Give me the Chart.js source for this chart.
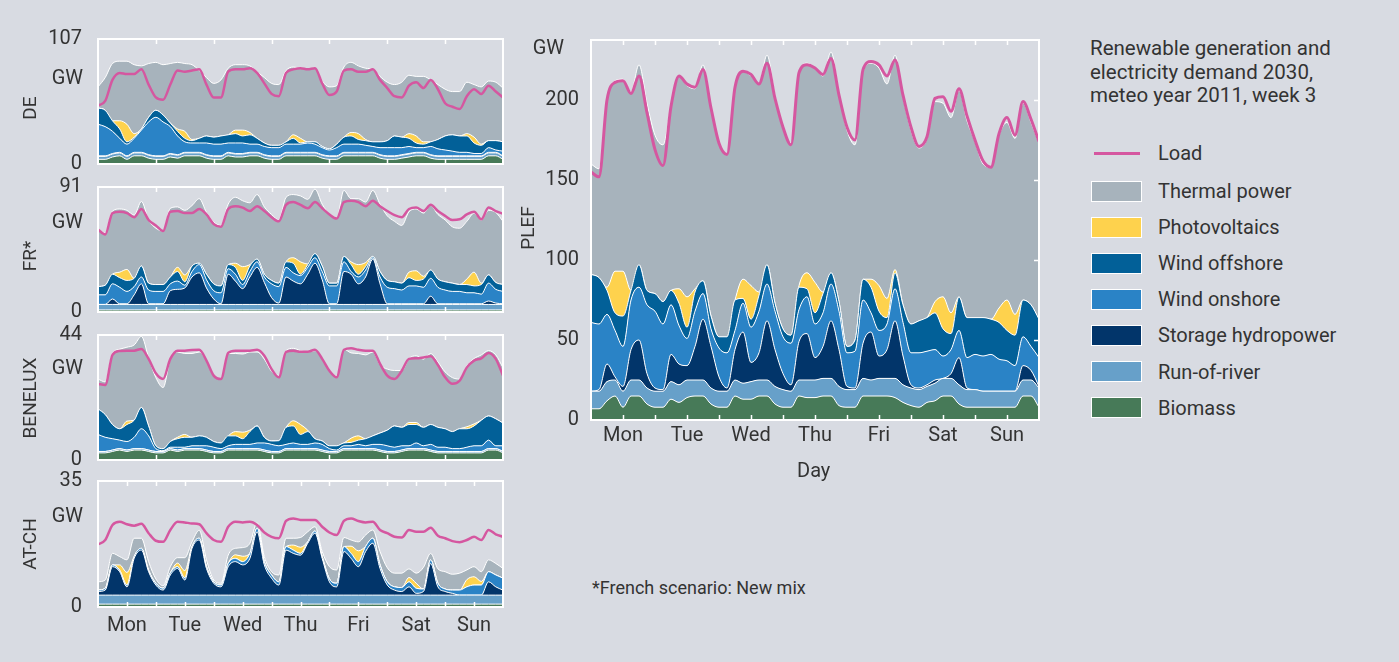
<!DOCTYPE html>
<html><head><meta charset="utf-8">
<script src="https://cdn.jsdelivr.net/npm/chart.js@4/dist/chart.umd.min.js"></script>
<style>
html,body{margin:0;padding:0;}
body{width:1399px;height:662px;background:#d8dbe2;position:relative;overflow:hidden;font-family:Roboto,sans-serif;color:#333;}
.box{position:absolute;}
.t{position:absolute;font-size:19px;line-height:24px;white-space:nowrap;color:#333;}
.lg{font-size:20px;}
.rot{transform:translate(-50%,-50%) rotate(-90deg);}
.gw{transform:translate(-100%,-50%);font-size:20px;}
.sw{position:absolute;left:1091px;width:51px;height:21px;box-sizing:border-box;border:1.5px solid #fff;}
</style></head><body>

<div class="box" style="left:0;top:9px;width:510px;height:185px"><canvas id="cDE"></canvas></div>
<div class="box" style="left:0;top:157px;width:510px;height:185px"><canvas id="cFR"></canvas></div>
<div class="box" style="left:0;top:305px;width:510px;height:185px"><canvas id="cBEN"></canvas></div>
<div class="box" style="left:0;top:451px;width:510px;height:196px"><canvas id="cAT"></canvas></div>
<div class="box" style="left:530px;top:10px;width:520px;height:480px"><canvas id="cPLEF"></canvas></div>

<div class="t rot" style="left:30px;top:108px">DE</div>
<div class="t rot" style="left:30px;top:256px">FR*</div>
<div class="t rot" style="left:30px;top:398px">BENELUX</div>
<div class="t rot" style="left:30px;top:544px">AT-CH</div>
<div class="t rot" style="left:528px;top:228px">PLEF</div>
<div class="t gw" style="left:83px;top:77px">GW</div>
<div class="t gw" style="left:83px;top:221px">GW</div>
<div class="t gw" style="left:83px;top:367px">GW</div>
<div class="t gw" style="left:83px;top:515px">GW</div>
<div class="t gw" style="left:564px;top:47px">GW</div>
<div class="t" style="left:797px;top:458px;font-size:20px">Day</div>
<div class="t" style="left:592px;top:576px;font-size:18px">*French scenario: New mix</div>

<div class="t" style="left:1090px;top:37px;line-height:23.5px;font-size:20.5px">Renewable generation and<br>electricity demand 2030,<br>meteo year 2011, week 3</div>

<div style="position:absolute;left:1094px;top:152px;width:46px;height:3px;background:#d557a0"></div>
<div class="t lg" style="left:1158px;top:141px">Load</div>
<div class="sw" style="top:181px;background:#a7b3bc"></div><div class="t lg" style="left:1158px;top:179px">Thermal power</div>
<div class="sw" style="top:217px;background:#fed24d"></div><div class="t lg" style="left:1158px;top:215px">Photovoltaics</div>
<div class="sw" style="top:253px;background:#026098"></div><div class="t lg" style="left:1158px;top:251px">Wind offshore</div>
<div class="sw" style="top:289px;background:#2a83c6"></div><div class="t lg" style="left:1158px;top:287px">Wind onshore</div>
<div class="sw" style="top:325px;background:#02356a"></div><div class="t lg" style="left:1158px;top:323px">Storage hydropower</div>
<div class="sw" style="top:361px;background:#67a0c9"></div><div class="t lg" style="left:1158px;top:360px">Run-of-river</div>
<div class="sw" style="top:397px;background:#477a58"></div><div class="t lg" style="left:1158px;top:396px">Biomass</div>

<script>
// ---- categories / ticks ----
const HOURS = [0,3,6,9,12,15,18,21, 24,27,30,33,36,39,42,45, 48,51,54,57,60,63,66,69, 72,75,78,81,84,87,90,93,
  96,99,102,105,108,111,114,117, 120,123,126,129,132,135,138,141, 144,147,150,153,156,159,162,165, 168];
const DAYS = ['Mon','Tue','Wed','Thu','Fri','Sat','Sun'];
const DAY_TICKS = [12,36,60,84,108,132,156];
const HALF_DAY_MARKS = [12,24,36,48,60,72,84,96,108,120,132,144,156];
const DAY_MARKS = [24,48,72,96,120,144];

// ---- PLEF ----
const PLEF_LOAD = [155,152,200,211,212,204,215,192, 169,159,196,215,210,208,219,195, 173,166,208,218,216,210,223,201,
  183,172,217,222,220,216,226,203, 183,175,219,224,222,215,225,203, 183,171,177,201,202,193,207,190, 175,162,158,179,189,178,199,188, 174];
const PLEF_BIO = [7,7,12,15,8,15,15,10, 8,8,13,11,14,15,15,10, 8,8,15,13,13,15,15,10, 8,8,15,14,14,15,15,9,
  8,8,15,15,15,15,14,11, 9,8,11,12,15,15,10,8, 8,8,8,8,8,8,15,15, 8];
const PLEF_ROR = [11,11,12,10,10,10,10,10, 10,10,11,11,11,10,10,10, 10,10,10,10,11,10,10,11, 11,10,10,11,11,11,11,12,
  11,11,11,10,11,11,12,11, 11,11,10,11,11,11,12,11, 11,10,10,10,10,10,10,10, 12];
const PLEF_STO = [0,1,11,2,3,19,25,9, 2,1,17,13,9,21,38,26, 9,2,19,32,12,17,37,23, 10,4,24,29,14,20,36,23,
  2,1,22,30,14,18,36,18, 2,1,1,2,0,3,17,1, 0,0,0,0,0,0,9,6, 1];
const PLEF_ON = [43,41,31,29,25,31,33,43, 48,41,31,24,17,22,16,11, 18,22,12,18,22,26,23,24, 23,26,20,23,21,21,23,24,
  21,23,27,12,16,16,20,21, 20,22,21,19,14,15,17,19, 22,22,23,20,19,16,18,15, 18];
const PLEF_OFF = [30,29,15,11,19,6,14,9, 11,14,9,14,7,12,8,8, 7,10,19,3,5,10,12,5, 5,5,14,5,7,12,7,6,
  4,7,13,16,12,4,10,11, 18,20,21,23,17,10,21,25, 23,24,22,23,19,19,23,26, 24];
const PLEF_PV = [0,0,2,26,28,0,0,0, 0,0,0,9,19,2,0,0, 0,0,0,12,21,2,0,0, 0,0,1,10,19,1,0,0,
  0,0,0,5,16,12,2,0, 0,0,0,7,20,13,0,0, 0,0,0,9,19,13,0,0, 0];
const PLEF_TH = [69,68,117,119,120,124,125,117, 99,98,115,133,132,125,135,130, 121,114,133,130,131,130,131,130,
  126,120,133,131,134,135,138,130, 135,122,130,135,136,134,134,130, 121,108,112,125,121,122,129,123, 110,96,95,108,111,110,123,114, 110];

// ---- DE ----
const DE_LOAD = [50,54,72,78,77,77,81,68, 57,55,68,80,79,80,81,68, 57,57,79,81,81,82,78,69, 60,58,78,81,82,81,82,69,
  59,62,80,81,79,79,81,72, 65,58,57,67,70,65,72,64, 52,49,47,58,64,60,67,62, 57];
const DE_BIO = [4,4,6,7,4,7,7,5, 4,4,6,5,7,7,7,5, 4,4,7,6,6,7,7,5, 4,4,7,7,7,7,7,5,
  4,4,7,7,7,7,7,5, 4,4,5,6,7,7,5,4, 4,4,4,4,4,4,7,7, 4];
const DE_ROR = [2.5,2.5,2.5,2.5,2.5,2.5,2.5,2.5, 2.5,2.5,2.5,2.5,2.5,2.5,2.5,2.5, 2.5,2.5,2.5,2.5,2.5,2.5,2.5,2.5,
  2.5,2.5,2.5,2.5,2.5,2.5,2.5,2.5, 2.5,2.5,2.5,2.5,2.5,2.5,2.5,2.5, 2.5,2.5,2.5,2.5,2.5,2.5,2.5,2.5, 2.5,2.5,2.5,2.5,2.5,2.5,2.5,2.5, 2.5];
const DE_STO = [0.5,0.5,0.5,0.5,0.5,0.5,0.5,0.5, 0.5,0.5,0.5,0.5,0.5,0.5,0.5,0.5, 0.5,0.5,0.5,0.5,0.5,0.5,0.5,0.5,
  0.5,0.5,0.5,0.5,0.5,0.5,0.5,0.5, 0.5,0.5,0.5,0.5,0.5,0.5,0.5,0.5, 0.5,0.5,0.5,0.5,0.5,0.5,0.5,0.5, 0.5,0.5,0.5,0.5,0.5,0.5,0.5,0.5, 0.5];
const DE_ON = [27,25,19,12,10,12,19,28, 33,29,23,16,9,8,8,10, 10,10,8,9,9,7,7,7, 7,7,7,7,7,8,7,6,
  5,7,7,7,7,6,5,6, 7,7,6,6,4,4,7,6, 5,4,3,3,2,2,4,2, 4];
const DE_OFF = [14,14,9,8,2,1,1,4, 6,6,3,4,3,2,4,6, 6,7,7,8,6,8,5,3, 2,2,2,5,1,1,2,1,
  1,3,6,7,4,4,4,5, 6,10,9,7,4,3,4,8, 12,14,14,14,9,7,6,8, 8];
const DE_PV = [0,0,0,7,15,3,0,0, 0,0,0,2,6,1,0,0, 0,0,0,3,5,2,0,0, 0,0,0,3,4,0,0,0,
  0,0,0,3,5,1,0,0, 0,0,0,4,6,2,0,0, 0,0,0,2,5,1,0,0, 0];
const DE_TH = [18,28,49,51,54,59,54,46, 41,43,51,57,58,64,58,50, 46,48,57,56,56,57,57,56, 53,52,61,58,60,62,63,56,
  53,50,60,60,58,61,62,56, 50,44,47,50,51,56,53,47, 40,37,38,44,45,49,51,50, 46];

// ---- FR ----
const FR_LOAD = [60,56.5,72,73,72,69,75,67, 63,59,73,73.5,72,72,75,71, 64,62,75,77,76,73.5,77,73.5, 69,66,78,80,78,75.5,80,75.5,
  71,68,80,81,80,77,81,77, 73.5,70.5,69,75,76,73.5,78,73.5, 70,67,67.5,71,73,67.5,76,73.5, 71.5];
const FR_BIO = [1.5,1.5,1.5,1.5,1.5,1.5,1.5,1.5, 1.5,1.5,1.5,1.5,1.5,1.5,1.5,1.5, 1.5,1.5,1.5,1.5,1.5,1.5,1.5,1.5,
  1.5,1.5,1.5,1.5,1.5,1.5,1.5,1.5, 1.5,1.5,1.5,1.5,1.5,1.5,1.5,1.5, 1.5,1.5,1.5,1.5,1.5,1.5,1.5,1.5, 1.5,1.5,1.5,1.5,1.5,1.5,1.5,1.5, 1.5];
const FR_ROR = [4,4,4,4,4,4,4,4, 4,4,4,4,4,4,4,4, 4,4,4,4,4,4,4,4, 4,4,4,4,4,4,4,4,
  4,4,4,4,4,4,4,4, 4,4,4,4,4,4,4,4, 4,4,4,4,4,4,4,4, 4];
const FR_STO = [0,0,4,0.5,0.5,7,15,0.5, 0.5,0.5,10,11,12,20,23,12, 4,0.5,22,17,11.5,20,27,16, 5,1,20,17,15,22,30,18,
  0.5,0.5,24,22,15,20,33,15, 0.5,0.5,0.5,0.5,0.5,0.5,6,0.5, 0.5,0.5,0.5,0.5,0.5,0.5,2.5,1, 0.5];
const FR_ON = [7,7,11,12,9,6,5,10, 9,9,5,6,2,4,6,6, 6,8,4,5,3,4,4,4, 10,12,7,6,6,5,4,6,
  13,13,7,2,5,5,1,5, 12,11,10,13,13,12,13,12, 10,9,9,8,8,7,13,10, 9];
const FR_OFF = [6,7,7,7,8,6,8,5, 5,5,5,7,2.5,4,1,4, 5,5,3,5,3,4,2,2, 2.5,2.5,4,7,1,2,3,4,
  2,2,4,5,2,2.5,1,4, 5,5,5,6,4,6,6,6, 6,6,5,6,5,7,6,5, 5];
const FR_PV = [0,0,0,4,8,0,0,0, 0,0,0,3,5,0,0,0, 0,0,0,3,10,1,0,0, 0,0,0,4,9,0.5,0,0,
  0,0,0,2,7,3,0,0, 0,0,0,4,7,2,0,0, 0,0,0,4,10,1,0,0, 0];
const FR_TH = [42,38,46,46,43,46,47,46, 41,39,50,44,47,44,47,45, 45,44,44,48,48,45,47,49, 48,46,47,46,48,47,47,45,
  50,47,48,46,48,44,48,49, 47,44,42,44,45,46,47,47, 45,41,41,42,43,46,47,51, 46];

// ---- BENELUX ----
const BEN_LOAD = [26.8,26.4,37,38.4,38.5,38.5,39.1,35.6, 30.5,28.5,35.6,38.5,38.5,38.7,38.8,35, 29.7,28.5,37.7,38.5,38.5,38.5,38.8,36.7,
  32,29.1,38.1,38.5,38.1,38.1,38.8,35.6, 31.4,29.1,38.8,39.3,38.8,38.5,38.5,33.8, 29.7,28.5,31.4,35.6,35.8,36.1,36.5,33.4,
  29.1,26.8,27.9,32.6,35,35.8,37.7,35.6, 29.7];
const BEN_BIO = [2.5,2.5,3,3.5,3,3.5,3.5,3, 2.5,2.5,3.5,3,3.5,3.5,3.5,3, 2.5,2.5,3.5,3.5,3.5,3.5,3.5,3, 2.5,2.5,3.5,3.5,3.5,3.5,3.5,3,
  2.5,2.5,3.5,3.5,3.5,3.5,3.5,3, 2.5,2.5,3,3.5,3.5,3.5,3,2.5, 2.5,2.5,2.5,2.5,2.5,2.5,3.5,3.5, 2.5];
const BEN_ROR = [0.5,0.5,0.5,0.5,0.5,0.5,0.5,0.5, 0.5,0.5,0.5,0.5,0.5,0.5,0.5,0.5, 0.5,0.5,0.5,0.5,0.5,0.5,0.5,0.5,
  0.5,0.5,0.5,0.5,0.5,0.5,0.5,0.5, 0.5,0.5,0.5,0.5,0.5,0.5,0.5,0.5, 0.5,0.5,0.5,0.5,0.5,0.5,0.5,0.5, 0.5,0.5,0.5,0.5,0.5,0.5,0.5,0.5, 0.5];
const BEN_STO = [0,0,0,0,0,0,0,0, 0,0,0,0,0,0,0,0, 0,0,0,0,0,0,0,0, 0,0,0,0,0,0,0,0,
  0,0,0,0,0,0,0,0, 0,0,0,0,0,0,0,0, 0,0,0,0,0,0,0,0, 0];
const BEN_ON = [6,5,4,3,3,4,7,5, 1,0.3,0.5,1,0.5,1,1,1.5, 1.5,1,1,1.5,1.5,1.5,2,2.5, 2.5,2,1.5,2,1.5,1.5,2,2,
  1,0.5,1,1,1.5,1,1.5,2, 2,1.5,1.5,1,2,1,2,1.5, 1.5,1,1,1.5,2,2,3,1, 2];
const BEN_OFF = [9,8,5,4,6,6,7.5,3.5, 1,0.7,2,3,3.5,3,3.5,3, 2,2,3.5,3,2,4.5,6,2, 1.2,1.8,6,6,3.5,4.5,1.5,1.2,
  1,1.5,1,1.2,1.5,2.5,3,4, 5.5,7.5,6.5,7.5,6.5,6.5,7,7, 6.5,6,7,6.5,7,9,8.5,9.5, 8];
const BEN_PV = [0,0,0,0,1.2,0,0,0, 0,0,0,0.5,1,0,0,0, 0,0,0,1.5,2.3,0.5,0,0, 0,0,0,1.8,3.5,0.5,0,0,
  0,0,0,1.5,1.5,0,0,0, 0,0,0,0.7,0.7,0,0,0, 0,0,0,0.7,0.7,0,0,0, 0];
const BEN_TH = [10.5,11.5,25,28,26,26.5,25,24, 24,21.5,29,30,28.5,29.5,29.5,27, 23,22.5,29,27.5,27.5,27.5,26,27.5,
  24.5,23,27,25.5,26,27.5,31,29, 26.5,24.5,33,30,29,29.5,29.5,24, 21.5,19.5,20,22.5,23.5,24,25,23, 20,19,17.5,21.5,23,23,23,22.5, 19.5];

// ---- AT-CH ----
const AT_LOAD = [17.4,18.6,22.8,23.7,23,22.6,23.1,20.5, 18.4,18.1,21.4,23.7,23.5,23.2,23,20.5, 18.6,18.1,22.3,23.7,23.5,23.7,22.8,20.7,
  19.5,19.1,23.9,24.6,24.2,24.2,24.2,22.3, 20.7,20,23.9,24.6,23.9,23.5,23.7,21.4, 20.5,19.5,19.3,21.4,20.9,20.9,22,19.8,
  19.1,18.3,18,18.6,19.5,18.6,21.4,20.2, 19.5];
const AT_BIO = [0.8,0.8,0.8,0.8,0.8,0.8,0.8,0.8, 0.8,0.8,0.8,0.8,0.8,0.8,0.8,0.8, 0.8,0.8,0.8,0.8,0.8,0.8,0.8,0.8,
  0.8,0.8,0.8,0.8,0.8,0.8,0.8,0.8, 0.8,0.8,0.8,0.8,0.8,0.8,0.8,0.8, 0.8,0.8,0.8,0.8,0.8,0.8,0.8,0.8, 0.8,0.8,0.8,0.8,0.8,0.8,0.8,0.8, 0.8];
const AT_ROR = [2.5,2.5,2.5,2.5,2.5,2.5,2.5,2.5, 2.5,2.5,2.5,2.5,2.5,2.5,2.5,2.5, 2.5,2.5,2.5,2.5,2.5,2.5,2.5,2.5,
  2.5,2.5,2.5,2.5,2.5,2.5,2.5,2.5, 2.5,2.5,2.5,2.5,2.5,2.5,2.5,2.5, 2.5,2.5,2.5,2.5,2.5,2.5,2.5,2.5, 2.5,2.5,2.5,2.5,2.5,2.5,2.5,2.5, 2.5];
const AT_STO = [1,1.4,7.9,6.5,2.3,10.2,12.5,6.5, 2.8,1.4,5.6,7.4,4.2,13,15.3,7.4, 3.3,2.3,7.9,9.3,8.4,10.2,17.6,8.4,
  4.7,2.8,12.5,11.6,11.1,14.4,17.2,10.2, 3.7,2.3,12.1,10.2,7.9,12.1,14.4,7.4, 2.8,1.4,1,2.3,0.5,1,8.8,2.3, 1,0.5,0,0,0,0,3.7,2.3, 1.4];
const AT_ON = [0.4,0.5,0.5,0.4,0.5,0.5,0.5,0.4, 0.5,0.5,0.6,0.5,0.6,0.5,0.5,0.5, 0.4,0.5,0.9,0.9,0.9,1.4,1,0.9,
  0.9,0.9,1,0.9,0.5,0.4,0.6,0.5, 0.8,1,1.4,1.4,1.4,1.4,1.4,1, 0.9,0.9,1.1,1.4,1.4,0.7,1,1, 0.7,0.9,1.4,2.3,2.8,2.8,2.8,3.3, 3.3];
const AT_OFF = [0,0,0,0,0,0,0,0, 0,0,0,0,0,0,0,0, 0,0,0,0,0,0,0,0, 0,0,0,0,0,0,0,0,
  0,0,0,0,0,0,0,0, 0,0,0,0,0,0,0,0, 0,0,0,0,0,0,0,0, 0];
const AT_PV = [0,0,0,1.5,3.5,0,0,0, 0,0,0,1,2,0,0,0, 0,0,0,1,1.5,0,0,0, 0,0,0,1.4,1.7,0,0,0,
  0,0,0,2,3,0,0,0, 0,0,0,1.2,1.4,0,0,0, 0,0,0,2,2.3,1,0,0, 0];
const AT_TH = [2.3,2.3,3.2,2.3,3.5,5.1,2.8,2.4, 1.2,0.7,1.7,1.5,3.6,1.3,2.2,1.9, 0.5,0.5,2.3,1.8,2.4,2.8,1.5,1.4,
  0.9,1.9,2.3,1.9,2.7,2.8,1.2,1.4, 3.4,3.7,2.5,1.7,2.5,3.2,2.3,3.7, 3.9,3.8,4,2.4,2.8,6,1.8,4, 4.8,4.4,4.7,2.7,2.8,2.7,3.3,3.2, 2.7];

// ---- styling ----
const C = {load:'#d557a0', th:'#a7b3bc', pv:'#fed24d', off:'#026098', on:'#2a83c6', sto:'#02356a', ror:'#67a0c9', bio:'#477a58'};
const FONT = {family:'Roboto', size:20};
const TXT = '#333';

const framePlugin = {
  id:'frame',
  afterDatasetsDraw(chart, args, opts){
    const {ctx, chartArea:a, scales:{x,y}} = chart;
    ctx.save();
    ctx.strokeStyle = '#fff';
    ctx.lineWidth = 2;
    ctx.strokeRect(a.left, a.top, a.right - a.left, a.bottom - a.top);
    ctx.lineWidth = 1.5;
    ctx.beginPath();
    (opts.xMarks || []).forEach(v => {
      const px = Math.round(x.getPixelForValue(v)) + 0.5;
      ctx.moveTo(px, a.top); ctx.lineTo(px, a.top + 5);
      ctx.moveTo(px, a.bottom); ctx.lineTo(px, a.bottom - 5);
    });
    (opts.yMarks || []).forEach(v => {
      const py = Math.round(y.getPixelForValue(v)) + 0.5;
      ctx.moveTo(a.right, py); ctx.lineTo(a.right - 5, py);
    });
    ctx.stroke();
    ctx.restore();
  }
};

function build(id, s){
  const areas = [
    ['Biomass', s.bio, C.bio], ['Run-of-river', s.ror, C.ror], ['Storage hydropower', s.sto, C.sto],
    ['Wind onshore', s.on, C.on], ['Wind offshore', s.off, C.off], ['Photovoltaics', s.pv, C.pv], ['Thermal power', s.th, C.th]
  ];
  const datasets = [{label:'Load', data:s.load, stack:'load', borderColor:C.load, borderWidth:s.lw, fill:false,
    pointRadius:0, cubicInterpolationMode:'monotone'}].concat(areas.map(([label, data, color], i) => ({
      label, data, stack:'gen', backgroundColor:color, borderColor:'#fff', borderWidth:1,
      fill: i === 0 ? 'origin' : '-1', pointRadius:0, cubicInterpolationMode:'monotone'
    })));
  new Chart(document.getElementById(id), {
    type:'line',
    data:{labels:HOURS, datasets},
    options:{
      responsive:true, maintainAspectRatio:false, animation:false,
      layout:{padding:s.pad},
      plugins:{legend:{display:false}, tooltip:{enabled:false}, frame:{xMarks:s.xMarks, yMarks:s.yMarks}},
      scales:{
        x:{type:'linear', min:0, max:168, display:true, grid:{display:false, drawTicks:false}, border:{display:false},
          ticks:{display:s.xLabels, padding:s.xPad, color:TXT, font:FONT, maxRotation:0, autoSkip:false, callback:(v, i) => DAYS[i]},
          afterBuildTicks: sc => { sc.ticks = DAY_TICKS.map(v => ({value:v})); },
          afterFit: sc => { sc.height = s.xHeight; }},
        y:{stacked:true, min:0, max:s.ymax, grid:{display:false, drawTicks:false}, border:{display:false},
          ticks:{padding:s.yPad, color:TXT, font:FONT},
          afterBuildTicks: sc => { sc.ticks = s.yTicks.map(v => ({value:v})); },
          afterFit: sc => { sc.width = s.yWidth; }}
      }
    },
    plugins:[framePlugin]
  });
}

const small = {lw:2.5, xLabels:false, xHeight:30, xPad:0, yPad:16, yWidth:98, pad:{left:0, right:7, top:30, bottom:0}, xMarks:DAY_MARKS, yMarks:[]};
build('cDE', Object.assign({}, small, {bio:DE_BIO, ror:DE_ROR, sto:DE_STO, on:DE_ON, off:DE_OFF, pv:DE_PV, th:DE_TH, load:DE_LOAD, ymax:107, yTicks:[0,107]}));
build('cFR', Object.assign({}, small, {bio:FR_BIO, ror:FR_ROR, sto:FR_STO, on:FR_ON, off:FR_OFF, pv:FR_PV, th:FR_TH, load:FR_LOAD, ymax:91, yTicks:[0,91]}));
build('cBEN', Object.assign({}, small, {bio:BEN_BIO, ror:BEN_ROR, sto:BEN_STO, on:BEN_ON, off:BEN_OFF, pv:BEN_PV, th:BEN_TH, load:BEN_LOAD, ymax:44, yTicks:[0,44]}));
build('cAT', Object.assign({}, small, {bio:AT_BIO, ror:AT_ROR, sto:AT_STO, on:AT_ON, off:AT_OFF, pv:AT_PV, th:AT_TH, load:AT_LOAD, ymax:35, yTicks:[0,35],
  xLabels:true, xHeight:40, xPad:7, xMarks:HALF_DAY_MARKS}));
build('cPLEF', {bio:PLEF_BIO, ror:PLEF_ROR, sto:PLEF_STO, on:PLEF_ON, off:PLEF_OFF, pv:PLEF_PV, th:PLEF_TH, load:PLEF_LOAD,
  ymax:237.5, yTicks:[0,50,100,150,200], lw:3, xLabels:true, xHeight:70, xPad:4, yPad:12, yWidth:61,
  pad:{left:0, right:11, top:30, bottom:0}, xMarks:HALF_DAY_MARKS, yMarks:[50,100,150,200]});
</script>
</body></html>
